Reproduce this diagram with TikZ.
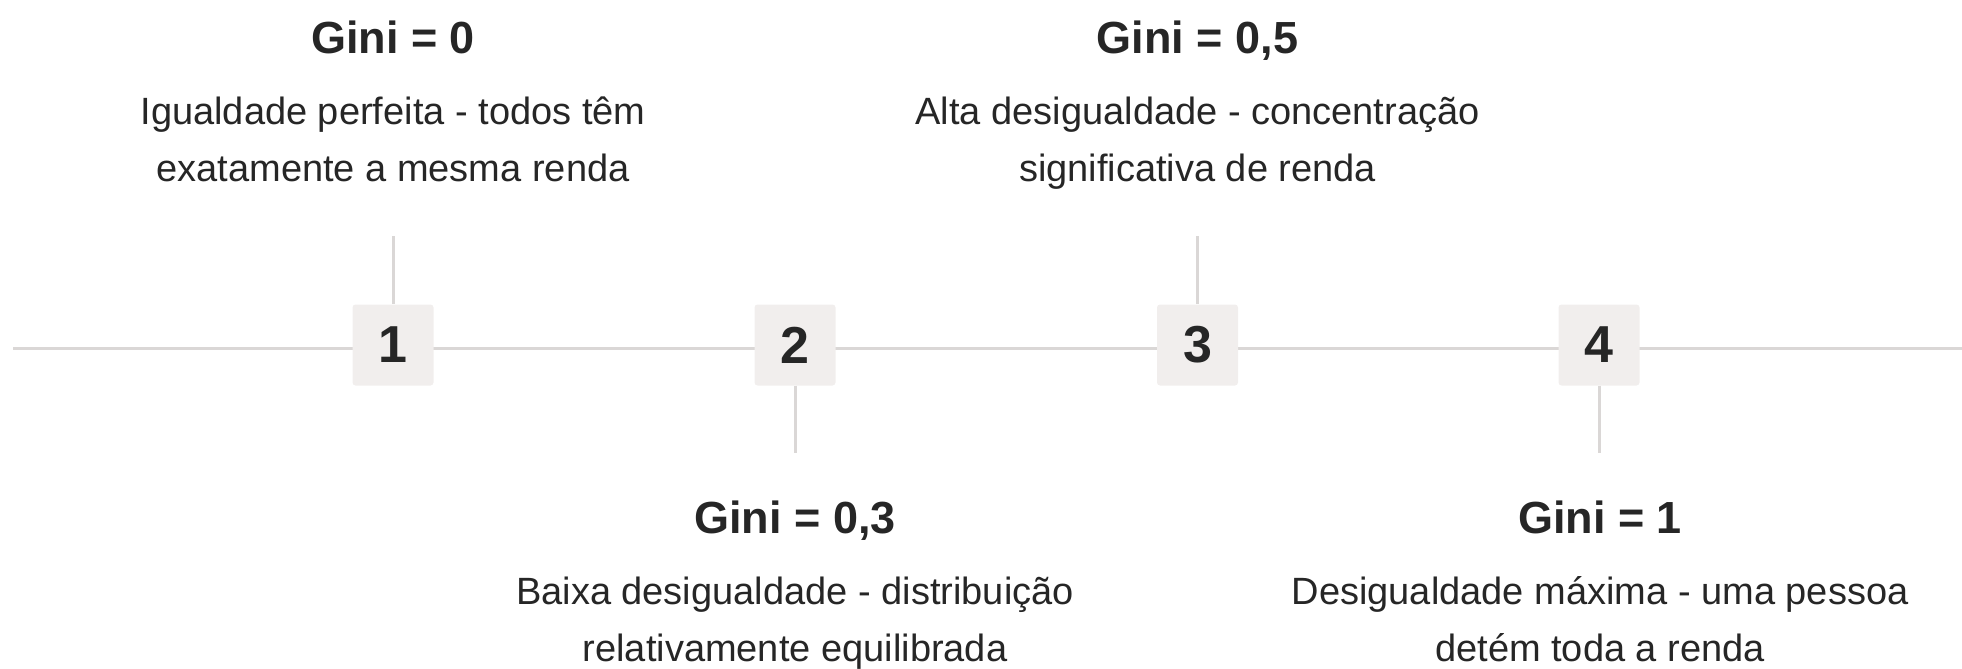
\documentclass[tikz,border=0pt]{standalone}
\usepackage{fontspec}
\setmainfont{Liberation Sans}
\definecolor{txt}{HTML}{262626}
\definecolor{boxc}{HTML}{F1EEED}
\definecolor{linec}{HTML}{DAD7D6}
\begin{document}
\begin{tikzpicture}[x=1pt,y=-1pt,
  numbox/.style={fill=boxc, rounded corners=3pt, minimum width=81pt, minimum height=81pt, inner sep=0pt, font=\fontsize{52}{52}\selectfont\bfseries, text=txt},
  title/.style={font=\fontsize{45}{50}\selectfont\bfseries, text=txt, inner sep=0pt, anchor=base},
  desc/.style={font=\fontsize{38}{57}\selectfont, text=txt, align=center, inner sep=0pt, anchor=base},
  conn/.style={draw=linec, line width=3pt}]
\useasboundingbox (0,0) rectangle (1962,669);
\coordinate (L) at (13,348);
\coordinate (R) at (1962,348);
\draw[conn] (L) -- (R);
\node[numbox] (b1) at (393,345) {1};
\node[numbox] (b2) at (795,345) {2};
\node[numbox] (b3) at (1197.5,345) {3};
\node[numbox] (b4) at (1599,345) {4};
\coordinate (t1) at (393,236);
\coordinate (t2) at (795,453);
\coordinate (t3) at (1197.5,236);
\coordinate (t4) at (1599,453);
\draw[conn] (t1) -- (b1.north);
\draw[conn] (b2.south) -- (t2);
\draw[conn] (t3) -- (b3.north);
\draw[conn] (b4.south) -- (t4);
\node[title] (g1) at (393,54) {Gini = 0};
\node[desc] (d1) at (393,181) {Igualdade perfeita - todos têm\\exatamente a mesma renda};
\node[title] (g2) at (795,533) {Gini = 0,3};
\node[desc] (d2) at (795,661) {Baixa desigualdade - distribuição\\relativamente equilibrada};
\node[title] (g3) at (1197.5,54) {Gini = 0,5};
\node[desc] (d3) at (1197.5,181) {Alta desigualdade - concentração\\significativa de renda};
\node[title] (g4) at (1600,533) {Gini = 1};
\node[desc] (d4) at (1600,661) {Desigualdade máxima - uma pessoa\\detém toda a renda};
\end{tikzpicture}
\end{document}
